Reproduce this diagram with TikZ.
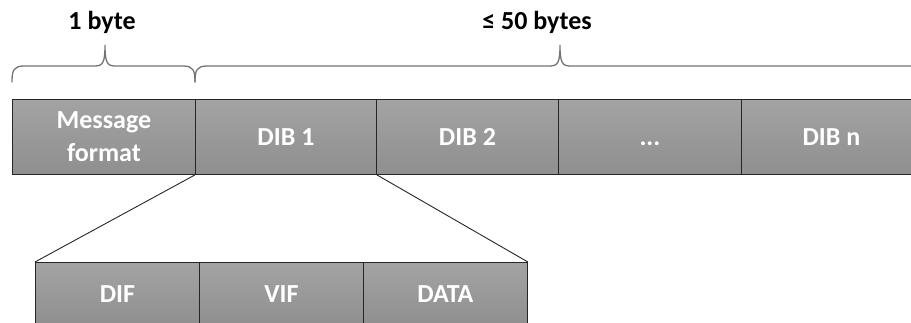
\documentclass[tikz,border=0pt]{standalone}
\usepackage{fontspec}
\setmainfont{Carlito}
\begin{document}
\begin{tikzpicture}[x=1pt,y=-1pt,
  field/.style={draw=black!85, line width=0.9pt, top color=gray!72, bottom color=gray!88,
    minimum height=75pt, inner sep=0pt, anchor=north west, text=white,
    font=\bfseries\fontsize{26}{33}\selectfont, align=center},
  subfield/.style={field, minimum height=64pt},
  bracestyle/.style={draw=black!55, line width=1.3pt, line cap=round},
  lbl/.style={font=\bfseries\fontsize{26}{31}\selectfont, text=black, inner sep=0pt}]
\useasboundingbox (0,0) rectangle (911,323);
\clip (0,0) rectangle (911,323);
% top row
\node[field, minimum width=183pt] (mf) at (12,99) {Message\\format};
\node[field, minimum width=181pt] (dib1) at (195,99) {DIB 1};
\node[field, minimum width=182pt] (dib2) at (376,99) {DIB 2};
\node[field, minimum width=183pt] (dots) at (558,99) {\vphantom{DIB}...};
\node[field, minimum width=180pt] (dibn) at (741,99) {DIB n};
% bottom row
\node[subfield, minimum width=164pt] (dif) at (35,262) {DIF};
\node[subfield, minimum width=164pt] (vif) at (199,262) {VIF};
\node[subfield, minimum width=164pt] (data) at (363,262) {DATA};
% zoom connectors
\draw[black!85, line width=0.9pt] (dib1.south west) -- (dif.north west);
\draw[black!85, line width=0.9pt] (dib1.south east) -- (data.north east);
% braces
\coordinate (b1l) at (12,82);
\coordinate (b1t) at (105,45);
\coordinate (b1r) at (195,82);
\draw[bracestyle] (b1l) .. controls (12,70) and (14,66) .. (24,66) -- (95,66)
  .. controls (103,66) and (105,62) .. (b1t)
  .. controls (105,62) and (107,66) .. (115,66) -- (183,66)
  .. controls (193,66) and (195,70) .. (b1r);
\coordinate (b2l) at (195,82);
\coordinate (b2t) at (560,45);
\coordinate (b2r) at (925,66);
\draw[bracestyle] (b2l) .. controls (195,70) and (197,66) .. (207,66) -- (550,66)
  .. controls (558,66) and (560,62) .. (b2t)
  .. controls (560,62) and (562,66) .. (570,66) -- (b2r);
% labels
\node[lbl] (l1) at (102,22) {1 byte};
\node[lbl] (l2) at (537,22) {≤ 50 bytes};
\end{tikzpicture}
\end{document}
